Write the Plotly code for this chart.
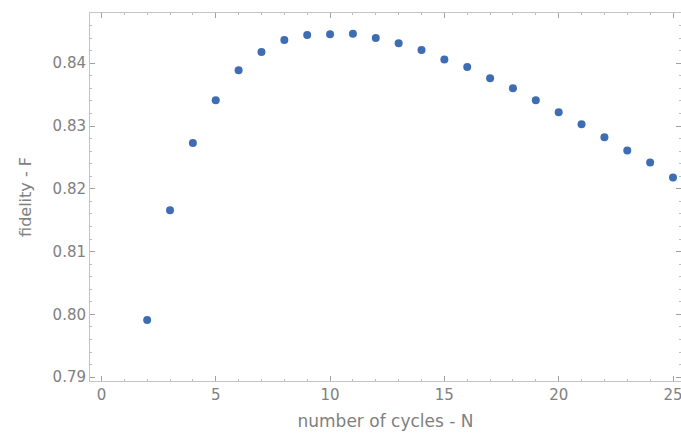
import plotly.graph_objects as go

cycles = list(range(2, 26))
fidelity = [0.7991, 0.8166, 0.8273, 0.8341, 0.8389, 0.8418, 0.8437, 0.8445,
            0.8446, 0.8447, 0.8440, 0.8432, 0.8421, 0.8406, 0.8394, 0.8376,
            0.8360, 0.8341, 0.8322, 0.8303, 0.8282, 0.8261, 0.8242, 0.8218]

x_ticks = [0, 5, 10, 15, 20, 25]
y_ticks = [0.79, 0.80, 0.81, 0.82, 0.83, 0.84]
y_labels = ["0.79", "0.80", "0.81", "0.82", "0.83", "0.84"]

fig = go.Figure()
fig.add_trace(go.Scatter(
    x=cycles, y=fidelity, mode="markers",
    marker=dict(color="#3F6DB3", size=8, line=dict(width=0)),
    showlegend=False, cliponaxis=False,
))

axis_common = dict(
    showgrid=False, zeroline=False, showline=True, linecolor="#C4C4C4",
    linewidth=1, mirror="ticks", ticks="inside", tickcolor="#A0A0A0",
    ticklen=5, tickwidth=1, automargin=False, ticklabeloverflow="allow",
    tickfont=dict(family="DejaVu Sans", size=15, color="#808080"),
)

fig.update_layout(
    width=681, height=441,
    margin=dict(l=90, r=0, t=13, b=60, autoexpand=False),
    paper_bgcolor="white", plot_bgcolor="white",
    xaxis=dict(
        range=[-0.5, 25.35], tickvals=x_ticks,
        minor=dict(dtick=1, ticks="inside", ticklen=2, tickcolor="#BDBDBD"),
        title=dict(text="number of cycles - N", standoff=12,
                   font=dict(family="DejaVu Sans", size=17, color="#808080")),
        **axis_common,
    ),
    yaxis=dict(
        range=[0.7894, 0.848], tickvals=y_ticks, ticktext=y_labels,
        minor=dict(dtick=0.002, tick0=0.79, ticks="inside", ticklen=2, tickcolor="#BDBDBD"),
        title=dict(text="fidelity - F", standoff=16,
                   font=dict(family="DejaVu Sans", size=16, color="#808080")),
        **axis_common,
    ),
)

fig.write_html(
    "out.html",
    config={"displayModeBar": False},
    post_script="document.body.style.margin='0';document.body.style.overflow='hidden';",
)
